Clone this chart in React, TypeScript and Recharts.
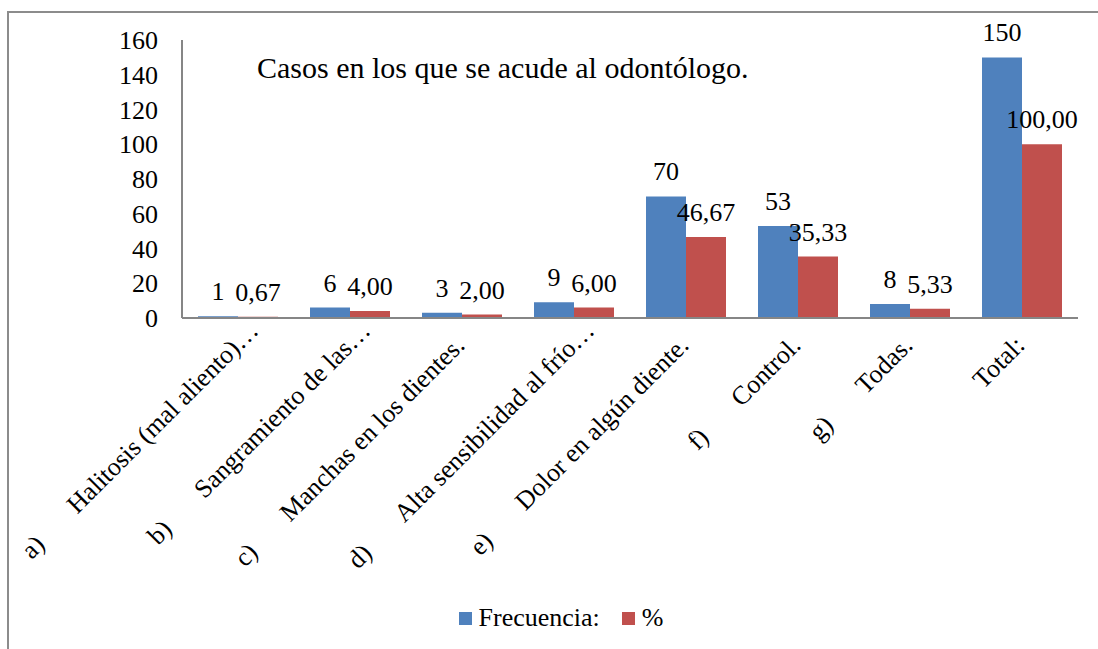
import { BarChart, Bar, XAxis, YAxis, LabelList, Legend } from "recharts";

// Casos en los que se acude al odontólogo (frecuencia y porcentaje)
const categoryTags = ["a)", "b)", "c)", "d)", "e)", "f)", "g)", ""];
const categoryNames = [
  "Halitosis (mal aliento)…",
  "Sangramiento de las…",
  "Manchas en los dientes.",
  "Alta sensibilidad al frío…",
  "Dolor en algún diente.",
  "Control.",
  "Todas.",
  "Total:",
];
const frecuencia = [1, 6, 3, 9, 70, 53, 8, 150];
const porcentaje = [0.67, 4.0, 2.0, 6.0, 46.67, 35.33, 5.33, 100.0];
const yTicks = [0, 20, 40, 60, 80, 100, 120, 140, 160];
const seriesNames = ["Frecuencia:", "%"];
const title = "Casos en los que se acude al odontólogo.";

const FONT = '"Liberation Serif", "Times New Roman", serif';
const BLUE = "#4f81bd";
const RED = "#c0504d";
const AXIS = "#868686";
const seriesColors = [BLUE, RED];

const data = categoryNames.map((name, i) => ({
  name,
  tag: categoryTags[i],
  frecuencia: frecuencia[i],
  porcentaje: porcentaje[i],
}));

function CategoryTick(props: any) {
  const { x, y, payload } = props;
  const name: string = payload.value;
  const tag = categoryTags[categoryNames.indexOf(name)] || "";
  // truncated labels (with an ellipsis) sit a little further up the axis
  const cut = name.endsWith("…");
  const px = x + (cut ? 22 : 4);
  const py = y + (cut ? 14 : 29);
  return (
    <text
      x={px}
      y={py}
      textAnchor="end"
      transform={`rotate(-45 ${px} ${py})`}
      fontFamily={FONT}
      fontSize={26}
      fill="#000"
    >
      {tag && <tspan>{tag}</tspan>}
      <tspan dx={tag ? 44 : 0}>{name}</tspan>
    </text>
  );
}

// legend drawn in series order (recharts sorts the payload by name otherwise)
function LegendBox() {
  return (
    <div
      style={{
        display: "flex",
        justifyContent: "center",
        alignItems: "center",
        fontFamily: FONT,
        fontSize: 26,
        lineHeight: "26px",
        color: "#000",
      }}
    >
      {seriesNames.map((n, i) => (
        <div key={n} style={{ display: "flex", alignItems: "center", marginLeft: i ? 22 : 0 }}>
          <span style={{ width: 13, height: 13, background: seriesColors[i], marginRight: 7 }} />
          <span>{n}</span>
        </div>
      ))}
    </div>
  );
}

const fmtPct = (v: any) => Number(v).toFixed(2).replace(".", ",");

export default function App() {
  return (
    <div
      style={{
        position: "fixed",
        left: 0,
        top: 0,
        width: 1098,
        height: 649,
        overflow: "hidden",
        background: "#fff",
      }}
    >
      <div
        style={{
          position: "absolute",
          left: 7,
          top: 11,
          width: 1104,
          height: 700,
          border: "2px solid #8c8c8c",
        }}
      />
      <BarChart
        width={1098}
        height={649}
        data={data}
        margin={{ top: 40, right: 20, bottom: 31, left: 0 }}
        barCategoryGap={16}
        barGap={0}
        style={{ position: "absolute", left: 0, top: 0 }}
      >
        <XAxis
          dataKey="name"
          interval={0}
          height={300}
          tickLine={false}
          tickSize={0}
          tickMargin={0}
          stroke={AXIS}
          strokeWidth={2}
          tick={<CategoryTick />}
        />
        <YAxis
          width={182}
          domain={[0, 160]}
          ticks={yTicks}
          interval={0}
          tickLine={false}
          tickSize={0}
          tickMargin={24}
          stroke={AXIS}
          strokeWidth={2}
          tick={{ fill: "#000", fontSize: 26, fontFamily: FONT }}
        />
        <Legend
          layout="horizontal"
          verticalAlign="middle"
          align="center"
          wrapperStyle={{ top: 605, left: 0, width: 1122 }}
          content={<LegendBox />}
        />
        <Bar dataKey="frecuencia" name={seriesNames[0]} fill={BLUE} isAnimationActive={false}>
          <LabelList
            dataKey="frecuencia"
            position="top"
            offset={16}
            fill="#000"
            fontSize={26}
            fontFamily={FONT}
          />
        </Bar>
        <Bar dataKey="porcentaje" name={seriesNames[1]} fill={RED} isAnimationActive={false}>
          <LabelList
            dataKey="porcentaje"
            position="top"
            offset={16}
            fill="#000"
            fontSize={26}
            fontFamily={FONT}
            formatter={fmtPct}
          />
        </Bar>
      </BarChart>
      <svg
        width={1098}
        height={649}
        style={{ position: "absolute", left: 0, top: 0, pointerEvents: "none" }}
      >
        <text x={257} y={78} fontFamily={FONT} fontSize={30} fill="#000">
          {title}
        </text>
      </svg>
    </div>
  );
}
